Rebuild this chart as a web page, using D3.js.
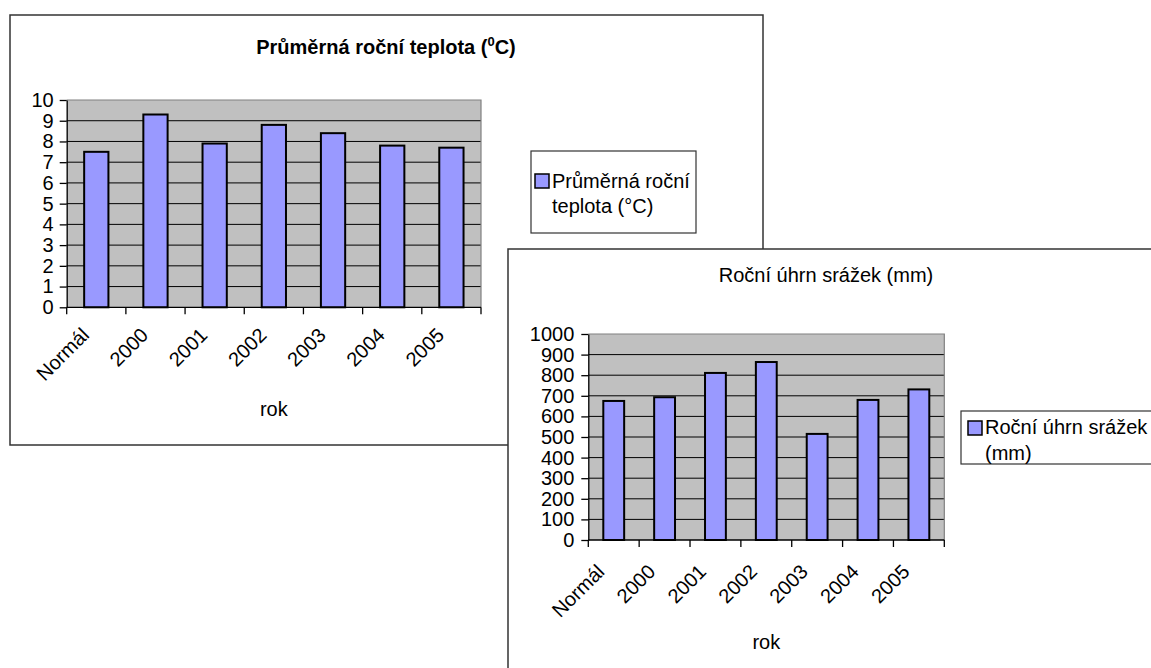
<!DOCTYPE html>
<html><head><meta charset="utf-8">
<script src="https://cdn.jsdelivr.net/npm/d3@7"></script>
<style>
body{margin:0;background:#fff}
svg text{font-family:"Liberation Sans",Arial,sans-serif;fill:#000}
</style>
</head><body>
<svg id="c" width="1151" height="668"></svg>
<script>
// ---- data ----
const categories = ["Normál","2000","2001","2002","2003","2004","2005"];
const temperature = [7.5, 9.3, 7.9, 8.8, 8.4, 7.8, 7.7];
const temperatureTicks = [0,1,2,3,4,5,6,7,8,9,10];
const precipitation = [675, 693, 811, 864, 515, 680, 731];
const precipitationTicks = [0,100,200,300,400,500,600,700,800,900,1000];
const xAxisTitle = "rok";
const temperatureLegend = ["Průměrná roční", "teplota (°C)"];
const precipitationTitle = "Roční úhrn srážek (mm)";
const precipitationLegend = ["Roční úhrn srážek", "(mm)"];

const svg = d3.select("#c");
svg.append("rect").attr("width",1151).attr("height",668).attr("fill","#fff");

function drawChart(cfg){
  const g = svg.append("g");
  const b = cfg.box;
  g.append("rect").attr("x",b.x).attr("y",b.y).attr("width",b.w).attr("height",b.h)
    .attr("fill","#fff").attr("stroke","#333").attr("stroke-width",1.5);

  const p = cfg.plot;
  const x = d3.scaleBand().domain(categories).range([p.x0,p.x1]).padding(0);
  const yMax = cfg.ticks[cfg.ticks.length-1];
  const y = d3.scaleLinear().domain([0,yMax]).range([p.y1,p.y0]);

  g.append("rect").attr("x",p.x0).attr("y",p.y0).attr("width",p.x1-p.x0).attr("height",p.y1-p.y0)
    .attr("fill","#c0c0c0");
  g.selectAll("line.grid").data(cfg.ticks.filter(t=>t>0 && t<yMax)).join("line")
    .attr("x1",p.x0).attr("x2",p.x1).attr("y1",d=>y(d)).attr("y2",d=>y(d))
    .attr("stroke","#000").attr("stroke-width",1);
  g.append("path").attr("d",`M${p.x0},${y(yMax)}H${p.x1}V${y(0)}`)
    .attr("fill","none").attr("stroke","#808080").attr("stroke-width",1.2);

  const bw = x.step()*0.41;
  g.selectAll("rect.bar").data(cfg.values).join("rect")
    .attr("x",(d,i)=>x(categories[i]) + (x.step()-bw)/2)
    .attr("y",d=>y(d)).attr("width",bw).attr("height",d=>y(0)-y(d))
    .attr("fill","#9999ff").attr("stroke","#000").attr("stroke-width",2);

  const ya = g.append("g").attr("transform",`translate(${p.x0},0)`)
    .call(d3.axisLeft(y).tickValues(cfg.ticks).tickFormat(d3.format("d"))
      .tickSize(7).tickSizeOuter(0).tickPadding(cfg.tickPad));
  ya.attr("font-size",null).attr("font-family",null);
  ya.selectAll("text").style("font-size","20px");
  ya.selectAll("line,path").attr("stroke","#000").attr("stroke-width",1.3);

  g.append("line").attr("x1",p.x0).attr("x2",p.x1).attr("y1",y(0)).attr("y2",y(0))
    .attr("stroke","#000").attr("stroke-width",1.3);
  const bounds = categories.map(c=>x(c)).concat([p.x1]);
  g.selectAll("line.xt").data(bounds).join("line")
    .attr("x1",d=>d).attr("x2",d=>d).attr("y1",y(0)).attr("y2",y(0)+7)
    .attr("stroke","#000").attr("stroke-width",1.3);
  g.selectAll("text.xl").data(categories).join("text")
    .attr("transform",d=>`translate(${x(d)+x.step()/2+cfg.lab.dx},${y(0)+cfg.lab.dy}) rotate(-45)`)
    .attr("text-anchor","end").style("font-size","20px").text(d=>d);
  g.append("text").attr("x",(p.x0+p.x1)/2).attr("y",cfg.axisTitleY)
    .attr("text-anchor","middle").style("font-size","20px").text(xAxisTitle);

  const t = g.append("text").attr("x",cfg.title.x).attr("y",cfg.title.y)
    .attr("text-anchor","middle").style("font-size","20px")
    .style("font-weight",cfg.title.bold?"bold":"normal");
  cfg.title.build(t);

  const L = cfg.legend;
  g.append("rect").attr("x",L.x).attr("y",L.y).attr("width",L.w).attr("height",L.h)
    .attr("fill","#fff").attr("stroke","#333").attr("stroke-width",1.2);
  g.append("rect").attr("x",L.sx).attr("y",L.sy).attr("width",14).attr("height",14)
    .attr("fill","#9999ff").attr("stroke","#000").attr("stroke-width",1.5);
  L.lines.forEach((s,i)=>{
    g.append("text").attr("x",L.tx).attr("y",L.ty + i*25.5).style("font-size","20px").text(s);
  });
}

drawChart({
  box:{x:10,y:15,w:753,h:430},
  plot:{x0:66.7,x1:481,y0:100,y1:307.3},
  ticks:temperatureTicks, values:temperature, tickPad:6,
  lab:{dx:-6,dy:29}, axisTitleY:415.5,
  title:{x:386,y:54,bold:true,build:t=>{
    t.append("tspan").text("Průměrná roční teplota (");
    t.append("tspan").attr("dy",-8).style("font-size","13px").text("0");
    t.append("tspan").attr("dy",8).text("C)");
  }},
  legend:{x:531,y:151,w:165,h:82,sx:535,sy:174,tx:552,ty:187.5,lines:temperatureLegend}
});

drawChart({
  box:{x:508,y:249,w:660,h:440},
  plot:{x0:588.3,x1:944.3,y0:334,y1:540},
  ticks:precipitationTicks, values:precipitation, tickPad:7,
  lab:{dx:-8,dy:33}, axisTitleY:649,
  title:{x:826,y:282,bold:false,build:t=>{ t.text(precipitationTitle); }},
  legend:{x:961,y:411,w:200,h:53,sx:968,sy:421,tx:985,ty:434,lines:precipitationLegend}
});
</script>
</body></html>
